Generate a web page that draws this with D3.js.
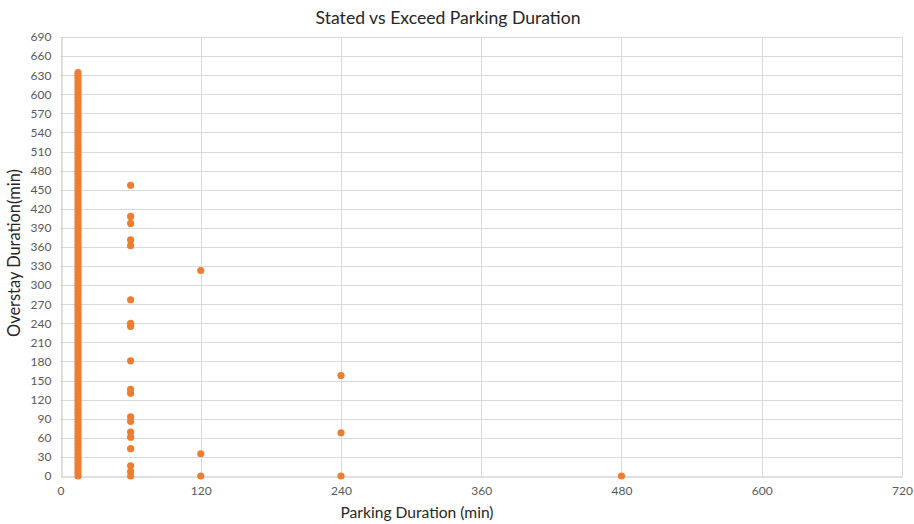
<!DOCTYPE html>
<html>
<head>
<meta charset="utf-8">
<script src="https://cdn.jsdelivr.net/npm/d3@7"></script>
<style>
  body { margin: 0; background: #fff; }
  svg { display: block; font-family: Lato, "Open Sans", sans-serif; }
</style>
</head>
<body>
<svg id="chart"></svg>
<script>
const width = 914;
const height = 524;

// stated parking duration (min) for each group of tickets
const parkingDurations = [15, 60, 120, 240, 480];

// overstay durations (min), one list per stated duration
const overstay15 = [0, 5, 10, 15, 20, 25, 30, 35, 40, 45, 50, 55, 60, 65, 70, 75, 80, 85, 90, 95,
    100, 105, 110, 115, 120, 125, 130, 135, 140, 145, 150, 155, 160, 165, 170, 175, 180, 185, 190, 195,
    200, 205, 210, 215, 220, 225, 230, 235, 240, 245, 250, 255, 260, 265, 270, 275, 280, 285, 290, 295,
    300, 305, 310, 315, 320, 325, 330, 335, 340, 345, 350, 355, 360, 365, 370, 375, 380, 385, 390, 395,
    400, 405, 410, 415, 420, 425, 430, 435, 440, 445, 450, 455, 460, 465, 470, 475, 480, 485, 490, 495,
    500, 505, 510, 515, 520, 525, 530, 535, 540, 545, 550, 555, 560, 565, 570, 575, 580, 585, 590, 595,
    600, 605, 610, 615, 620, 625, 630, 634];
const overstay60 = [457, 408, 397, 371, 362, 277, 240, 235, 181, 136, 130, 93, 86, 69, 61, 43, 16, 7, 0];
const overstay120 = [323, 35, 0];
const overstay240 = [158, 68, 0];
const overstay480 = [0];

const xTicks = [0, 120, 240, 360, 480, 600, 720];
const yTicks = [0, 30, 60, 90, 120, 150, 180, 210, 240, 270, 300, 330, 360, 390, 420, 450, 480, 510, 540, 570, 600, 630, 660, 690];

const groups = [overstay15, overstay60, overstay120, overstay240, overstay480];
const points = [];
groups.forEach((vals, i) => vals.forEach(v => points.push([parkingDurations[i], v])));

const margin = {top: 37, right: 12, bottom: 48, left: 60.5};

const svg = d3.select("#chart")
    .attr("width", width)
    .attr("height", height);

const x = d3.scaleLinear().domain([0, 720]).range([margin.left, width - margin.right]);
const y = d3.scaleLinear().domain([0, 690]).range([height - margin.bottom, margin.top]);

// horizontal gridlines
svg.append("g")
    .selectAll("line")
    .data(yTicks.slice(1)).enter()
    .append("line")
    .attr("x1", x(0))
    .attr("x2", x(720))
    .attr("y1", d => Math.round(y(d)) + 0.5)
    .attr("y2", d => Math.round(y(d)) + 0.5)
    .attr("stroke", "#d9d9d9");

// vertical gridlines
svg.append("g")
    .selectAll("line")
    .data(xTicks.slice(1)).enter()
    .append("line")
    .attr("x1", d => Math.round(x(d)) + 0.5)
    .attr("x2", d => Math.round(x(d)) + 0.5)
    .attr("y1", y(0))
    .attr("y2", y(690))
    .attr("stroke", "#d9d9d9");

// axes
const xAxis = svg.append("g")
    .attr("transform", "translate(0," + (Math.round(y(0)) + 0.5) + ")")
    .call(d3.axisBottom(x).tickValues(xTicks).tickSize(0).tickPadding(10));
const yAxis = svg.append("g")
    .attr("transform", "translate(" + (Math.round(x(0)) + 0.5) + ",0)")
    .call(d3.axisLeft(y).tickValues(yTicks).tickSize(0).tickPadding(10));

[xAxis, yAxis].forEach(a => {
    a.select(".domain").attr("stroke", "#bfbfbf");
    a.selectAll("text")
        .attr("fill", "#595959")
        .attr("font-size", "12px")
        .attr("font-family", "Lato, sans-serif");
});

// points
svg.append("g")
    .selectAll("circle")
    .data(points).enter()
    .append("circle")
    .attr("cx", d => x(d[0]))
    .attr("cy", d => y(d[1]))
    .attr("r", 3.6)
    .attr("fill", "#ED7D31");

// titles
svg.append("text")
    .attr("x", 448)
    .attr("y", 24)
    .attr("text-anchor", "middle")
    .attr("font-size", "17.6px")
    .attr("fill", "#262626")
    .text("Stated vs Exceed Parking Duration");

svg.append("text")
    .attr("x", 417)
    .attr("y", 518)
    .attr("text-anchor", "middle")
    .attr("font-size", "15.6px")
    .attr("fill", "#262626")
    .text("Parking Duration (min)");

svg.append("text")
    .attr("transform", "translate(20,253) rotate(-90)")
    .attr("text-anchor", "middle")
    .attr("font-size", "16.4px")
    .attr("fill", "#262626")
    .text("Overstay Duration(min)");
</script>
</body>
</html>
